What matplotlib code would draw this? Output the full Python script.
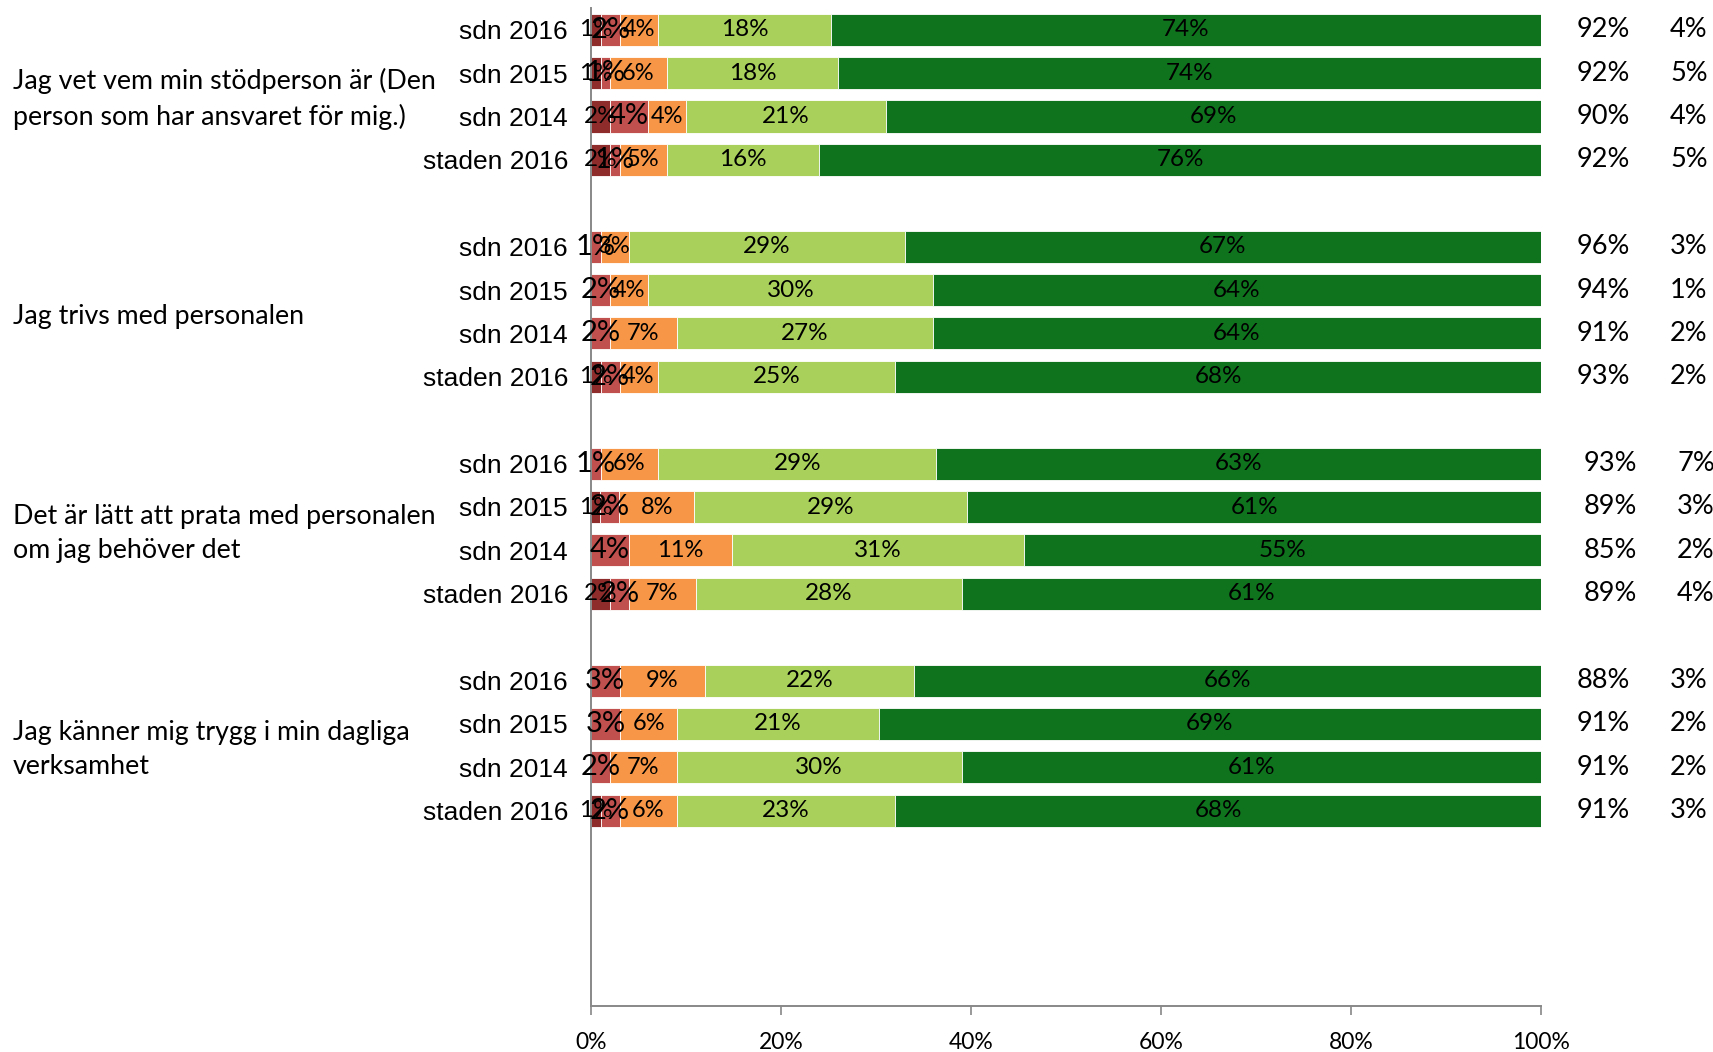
import matplotlib.pyplot as plt
import matplotlib.transforms as mtransforms
import numpy as np

questions = [
    "Jag vet vem min stödperson är (Den\nperson som har ansvaret för mig.)",
    "Jag trivs med personalen",
    "Det är lätt att prata med personalen\nom jag behöver det",
    "Jag känner mig trygg i min dagliga\nverksamhet",
]
groups = ["sdn 2016", "sdn 2015", "sdn 2014", "staden 2016"]

# answer shares per row (4 questions x 4 groups), in percent
very_neg = [1, 1, 2, 2, 0, 0, 0, 1, 0, 1, 0, 2, 0, 0, 0, 1]
neg = [2, 1, 4, 1, 1, 2, 2, 2, 1, 2, 4, 2, 3, 3, 2, 2]
neutral = [4, 6, 4, 5, 3, 4, 7, 4, 6, 8, 11, 7, 9, 6, 7, 6]
pos = [18, 18, 21, 16, 29, 30, 27, 25, 29, 29, 31, 28, 22, 21, 30, 23]
very_pos = [74, 74, 69, 76, 67, 64, 64, 68, 63, 61, 55, 61, 66, 69, 61, 68]

total_pos = [92, 92, 90, 92, 96, 94, 91, 93, 93, 89, 85, 89, 88, 91, 91, 91]
no_answer = [4, 5, 4, 5, 3, 1, 2, 2, 7, 3, 2, 4, 3, 2, 2, 3]

series = [very_neg, neg, neutral, pos, very_pos]
colors = ["#8e2c2c", "#c0504d", "#f79646", "#a8d05a", "#0f731e"]
label_sizes = [17.5, 21, 17, 17.5, 17.5]

W, H = 1713, 1052
fig = plt.figure(figsize=(W / 100, H / 100), dpi=100)
ax = fig.add_axes([591 / W, 46 / H, 950 / W, 998 / H])

ys = np.array([g * 5 + i for g in range(4) for i in range(4)])
data = np.array(series, dtype=float)
shares = data / data.sum(axis=0)

left = np.zeros(len(ys))
for k in range(len(series)):
    ax.barh(ys, shares[k], left=left, height=0.74, color=colors[k],
            edgecolor="white", linewidth=0.6)
    for j in range(len(ys)):
        if data[k, j] > 0:
            ax.text(left[j] + shares[k, j] / 2, ys[j], f"{int(data[k, j])}%",
                    ha="center", va="center", fontsize=label_sizes[k],
                    family="Lato", color="black")
    left += shares[k]

ax.set_xlim(0, 1)
ax.set_ylim(22.5, -0.5)
ax.set_xticks(np.arange(0, 1.01, 0.2))
ax.set_xticklabels([f"{int(round(t * 100))}%" for t in np.arange(0, 1.01, 0.2)],
                   family="Lato", fontsize=16.5)
ax.tick_params(axis="x", length=6.5, width=1.2, color="#888888", pad=12)
ax.set_yticks(ys)
ax.set_yticklabels(groups * 4, family="Liberation Sans", fontsize=19)
ax.tick_params(axis="y", length=0, pad=16.5)
for s in ["top", "right"]:
    ax.spines[s].set_visible(False)
for s in ["left", "bottom"]:
    ax.spines[s].set_color("#888888")
    ax.spines[s].set_linewidth(1.4)

trans = mtransforms.blended_transform_factory(fig.transFigure, ax.transData)
for g, q in enumerate(questions):
    fig.text(13 / W, g * 5 + 1.6, q, transform=trans, ha="left", va="center",
             family="Lato", fontsize=19.3, linespacing=1.45)

for j in range(len(ys)):
    dx = 7 if j // 4 == 2 else 0
    ax.text((1603 + dx) / W, ys[j], f"{total_pos[j]}%", transform=trans,
            ha="center", va="center", family="Lato", fontsize=19.5)
    ax.text((1689 + dx) / W, ys[j], f"{no_answer[j]}%", transform=trans,
            ha="center", va="center", family="Lato", fontsize=19.5)

fig.savefig("out.png", dpi=100)
